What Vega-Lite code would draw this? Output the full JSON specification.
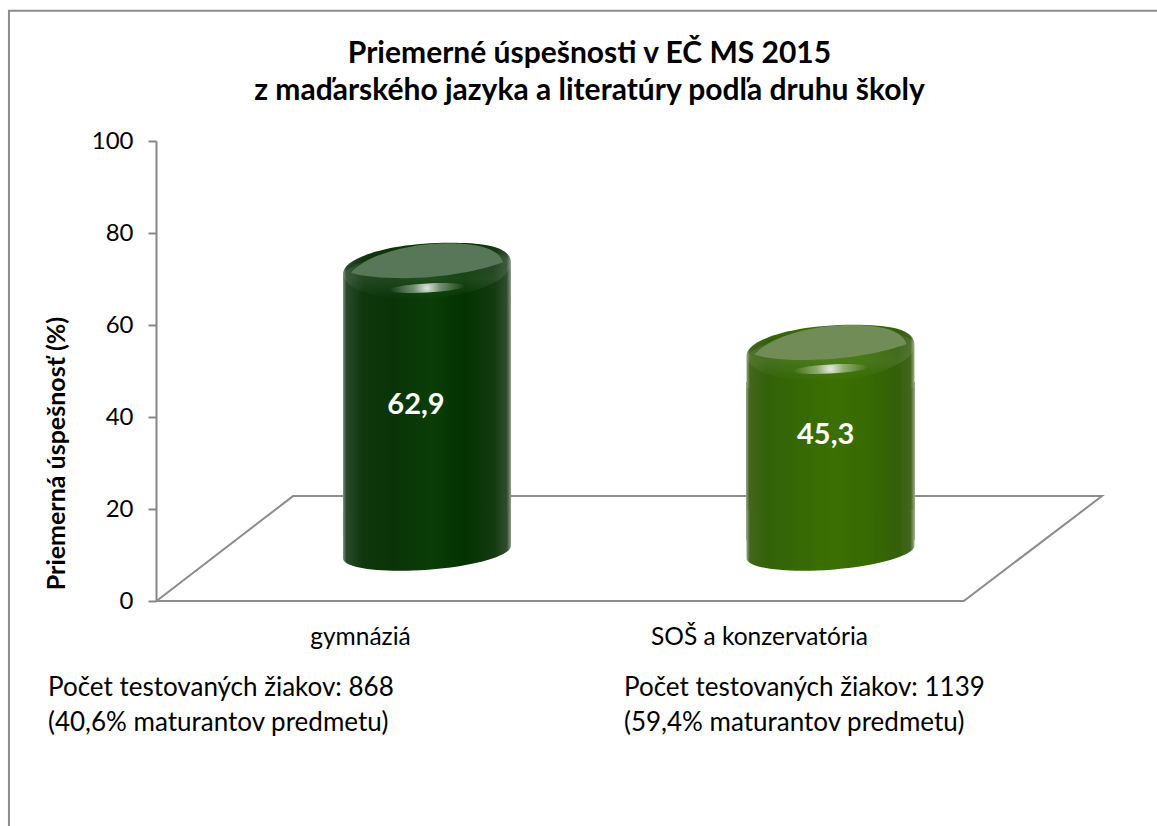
{
"$schema":"https://vega.github.io/schema/vega-lite/v6.json",
"width":1001,"height":460,
"padding":{"left":156,"top":141,"right":0,"bottom":225},
"autosize":{"type":"none"},
"background":"white",
"view":{"stroke":null},
"title":{"text":["Priemerné úspešnosti v EČ MS 2015","z maďarského jazyka a literatúry podľa druhu školy"],"font":"Lato","fontWeight":"bold","fontSize":30,"lineHeight":37,"color":"#000000","anchor":"middle","frame":"group","dx":-67,"offset":-99},
"datasets":{
"cyl":[
{"school":"gymnáziá","value":62.9,"label":"62,9","xc":27.07,"xl":18.68,"xr":35.46,"rimY":72.4,"capY":72.5,"glowY":68.04,"bodyTop":65.4,"bodyEnd":13.3,"baseY":10.65,"labelX":25.97,"labelY":42.6},
{"school":"SOŠ a konzervatória","value":45.3,"label":"45,3","xc":67.38,"xl":58.94,"xr":75.82,"rimY":54.6,"capY":54.7,"glowY":50.43,"bodyTop":47.6,"bodyEnd":13.3,"baseY":10.65,"labelX":66.9,"labelY":36.1}
],
"floor":[{"order":1,"x":0.05,"y":0},{"order":2,"x":13.69,"y":22.8},{"order":3,"x":94.5,"y":22.8},{"order":4,"x":80.7,"y":0},{"order":5,"x":0.05,"y":0}],
"frame":[{"order":1,"x":-14.69,"y":-48.9},{"order":2,"x":-14.69,"y":128.3},{"order":3,"x":100,"y":128.3}],
"notes":[
{"text":"Počet testovaných žiakov: 868\n(40,6% maturantov predmetu)","x":-10.79,"y":-18.9},
{"text":"Počet testovaných žiakov: 1139\n(59,4% maturantov predmetu)","x":46.75,"y":-18.9}
]
},
"layer":[
{"data":{"name":"frame"},"mark":{"type":"line","stroke":"#8c8c8c","strokeWidth":2,"clip":false},
"encoding":{"x":{"field":"x","type":"quantitative","title":null,"scale":{"domain":[0,100],"nice":false,"zero":false},
"axis":{"values":[20.38,60.24],"labelExpr":"datum.value<40?'gymnáziá':'SOŠ a konzervatória'","domain":false,"ticks":false,"grid":false,"labelFont":"Lato","labelFontSize":24.5,"labelColor":"#000000","labelPadding":24,"labelAngle":0,"labelLimit":500}},
"y":{"field":"y","type":"quantitative","title":"Priemerná úspešnosť (%)","scale":{"domain":[0,100],"nice":false,"zero":false},
"axis":{"values":[0,20,40,60,80,100],"grid":false,"domainColor":"#868686","domainWidth":2,"tickColor":"#868686","tickWidth":2,"tickSize":8,"labelFont":"Lato","labelFontSize":24,"labelColor":"#000000","labelPadding":15,"titleFont":"Lato","titleFontWeight":"bold","titleFontSize":25,"titleColor":"#000000","titleX":-87,"titleY":312,"titleLimit":500}},
"order":{"field":"order"}}},
{"data":{"name":"floor"},"mark":{"type":"line","stroke":"#8c8c8c","strokeWidth":2},
"encoding":{"x":{"field":"x","type":"quantitative","title":null},"y":{"field":"y","type":"quantitative","title":"Priemerná úspešnosť (%)"},"order":{"field":"order"}}},
{"data":{"name":"cyl"},"mark":{"type":"rect"},
"encoding":{"x":{"field":"xl","type":"quantitative","title":null},"x2":{"field":"xr"},"y":{"field":"bodyTop","type":"quantitative","title":"Priemerná úspešnosť (%)"},"y2":{"field":"bodyEnd"},
"fill":{"condition":{"test":"datum.school=='gymnáziá'","value":{"gradient":"linear","x1":0,"y1":0,"x2":1,"y2":0,"stops":[{"offset":0,"color":"#7f947f"},{"offset":0.02,"color":"#2a4a2a"},{"offset":0.12,"color":"#0f360d"},{"offset":0.3,"color":"#0a3408"},{"offset":0.52,"color":"#0a3d07"},{"offset":0.72,"color":"#033300"},{"offset":0.9,"color":"#143a12"},{"offset":0.975,"color":"#2f4d2f"},{"offset":1,"color":"#8a9c8a"}]}},"value":{"gradient":"linear","x1":0,"y1":0,"x2":1,"y2":0,"stops":[{"offset":0,"color":"#97a884"},{"offset":0.02,"color":"#43661c"},{"offset":0.12,"color":"#33610b"},{"offset":0.3,"color":"#366805"},{"offset":0.52,"color":"#3b7004"},{"offset":0.72,"color":"#376a02"},{"offset":0.9,"color":"#345f0a"},{"offset":0.975,"color":"#42671c"},{"offset":1,"color":"#9aac86"}]}}}},
{"data":{"name":"cyl"},"mark":{"type":"point","filled":true,"opacity":1,"size":28224,"shape":"M-1,0.07 C-1,-0.12,-0.45,-0.3,0.27,-0.3 C0.7,-0.3,1,-0.25,1,-0.06 L1,0.45 L-1,0.45 Z"},
"encoding":{"x":{"field":"xc","type":"quantitative","title":null},"y":{"field":"rimY","type":"quantitative","title":"Priemerná úspešnosť (%)"},
"fill":{"condition":{"test":"datum.school=='gymnáziá'","value":{"gradient":"linear","x1":0,"y1":0,"x2":1,"y2":0,"stops":[{"offset":0,"color":"#7f947f"},{"offset":0.02,"color":"#2a4a2a"},{"offset":0.12,"color":"#0f360d"},{"offset":0.3,"color":"#0a3408"},{"offset":0.52,"color":"#0a3d07"},{"offset":0.72,"color":"#033300"},{"offset":0.9,"color":"#143a12"},{"offset":0.975,"color":"#2f4d2f"},{"offset":1,"color":"#8a9c8a"}]}},"value":{"gradient":"linear","x1":0,"y1":0,"x2":1,"y2":0,"stops":[{"offset":0,"color":"#97a884"},{"offset":0.02,"color":"#43661c"},{"offset":0.12,"color":"#33610b"},{"offset":0.3,"color":"#366805"},{"offset":0.52,"color":"#3b7004"},{"offset":0.72,"color":"#376a02"},{"offset":0.9,"color":"#345f0a"},{"offset":0.975,"color":"#42671c"},{"offset":1,"color":"#9aac86"}]}}}},
{"data":{"name":"cyl"},"mark":{"type":"point","filled":true,"opacity":1,"size":28224,"shape":"M-1,0.07 C-0.9,-0.05,-0.5,-0.2,0.2,-0.24 C0.6,-0.24,0.95,-0.2,1,-0.06 A1,0.36,-4,0,1,-1,0.07 Z","fill":{"gradient":"linear","x1":0,"y1":0,"x2":0,"y2":1,"stops":[{"offset":0,"color":"rgba(255,255,255,0.05)"},{"offset":0.6,"color":"rgba(255,255,255,0.09)"},{"offset":1,"color":"rgba(255,255,255,0)"}]}},
"encoding":{"x":{"field":"xc","type":"quantitative","title":null},"y":{"field":"rimY","type":"quantitative","title":"Priemerná úspešnosť (%)"}}},
{"data":{"name":"cyl"},"mark":{"type":"point","filled":true,"opacity":1,"size":28224,"shape":"M-1,-0.5 L-1,0.077 A1,0.21,-4.4,0,0,1,-0.077 L1,-0.5 Z"},
"encoding":{"x":{"field":"xc","type":"quantitative","title":null},"y":{"field":"baseY","type":"quantitative","title":"Priemerná úspešnosť (%)"},
"fill":{"condition":{"test":"datum.school=='gymnáziá'","value":{"gradient":"linear","x1":0,"y1":0,"x2":1,"y2":0,"stops":[{"offset":0,"color":"#7f947f"},{"offset":0.02,"color":"#2a4a2a"},{"offset":0.12,"color":"#0f360d"},{"offset":0.3,"color":"#0a3408"},{"offset":0.52,"color":"#0a3d07"},{"offset":0.72,"color":"#033300"},{"offset":0.9,"color":"#143a12"},{"offset":0.975,"color":"#2f4d2f"},{"offset":1,"color":"#8a9c8a"}]}},"value":{"gradient":"linear","x1":0,"y1":0,"x2":1,"y2":0,"stops":[{"offset":0,"color":"#97a884"},{"offset":0.02,"color":"#43661c"},{"offset":0.12,"color":"#33610b"},{"offset":0.3,"color":"#366805"},{"offset":0.52,"color":"#3b7004"},{"offset":0.72,"color":"#376a02"},{"offset":0.9,"color":"#345f0a"},{"offset":0.975,"color":"#42671c"},{"offset":1,"color":"#9aac86"}]}}}},
{"data":{"name":"cyl"},"mark":{"type":"point","filled":true,"opacity":1,"size":23104,"shape":"M-1,0.07 C-0.85,-0.12,-0.35,-0.32,0.3,-0.32 C0.65,-0.32,0.95,-0.25,1,-0.07 C0.75,0.03,0.2,0.14,-0.3,0.14 C-0.6,0.14,-0.85,0.12,-1,0.07 Z"},
"encoding":{"x":{"field":"xc","type":"quantitative","title":null},"y":{"field":"capY","type":"quantitative","title":"Priemerná úspešnosť (%)"},
"fill":{"condition":{"test":"datum.school=='gymnáziá'","value":"#587758"},"value":"#728c58"}}},
{"data":{"name":"cyl"},"mark":{"type":"point","filled":true,"opacity":1,"size":5776,"shape":"M-1,0.05 A1,0.12,-3,0,1,1,-0.05 A1,0.12,-3,0,1,-1,0.05 Z","fill":{"gradient":"radial","x1":0.5,"y1":0.5,"r1":0,"x2":0.5,"y2":0.5,"r2":0.5,"stops":[{"offset":0,"color":"rgba(255,255,255,0.85)"},{"offset":0.35,"color":"rgba(255,255,255,0.4)"},{"offset":1,"color":"rgba(255,255,255,0)"}]}},
"encoding":{"x":{"field":"xc","type":"quantitative","title":null},"y":{"field":"glowY","type":"quantitative","title":"Priemerná úspešnosť (%)"}}},
{"data":{"name":"cyl"},"mark":{"type":"text","font":"Lato","fontWeight":"bold","fontSize":29,"color":"#ffffff"},
"encoding":{"x":{"field":"labelX","type":"quantitative","title":null},"y":{"field":"labelY","type":"quantitative","title":"Priemerná úspešnosť (%)"},"text":{"field":"label"}}},
{"data":{"name":"notes"},"mark":{"type":"text","font":"Lato","fontSize":26,"color":"#000000","align":"left","baseline":"middle","lineBreak":"\n","lineHeight":35},
"encoding":{"x":{"field":"x","type":"quantitative","title":null},"y":{"field":"y","type":"quantitative","title":"Priemerná úspešnosť (%)"},"text":{"field":"text"}}}
]
}
